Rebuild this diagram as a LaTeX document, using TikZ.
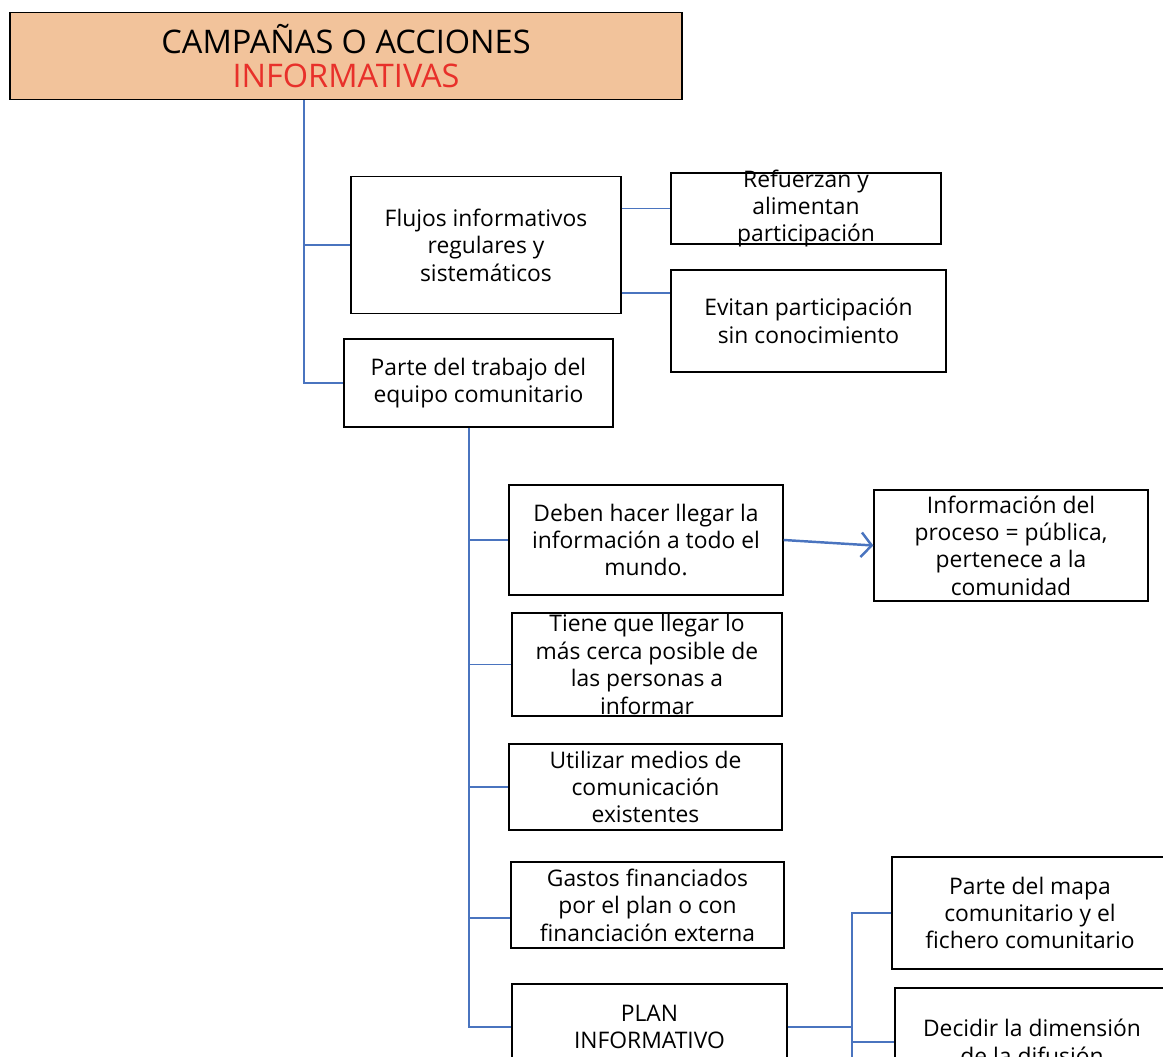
\documentclass[tikz,border=0pt]{standalone}
\usepackage{fontspec}
\setmainfont{Open Sans}
\usetikzlibrary{arrows.meta,calc}
\definecolor{titlefill}{HTML}{F2C39B}
\definecolor{titlered}{HTML}{E8302A}
\definecolor{linkblue}{HTML}{4A74BF}
\tikzset{
  box/.style={draw, line width=0.8pt, align=center, inner xsep=2pt, inner ysep=0pt,
    font=\fontsize{13}{15.6}\selectfont},
  link/.style={draw=linkblue, line width=0.8pt},
  arrowlink/.style={draw=linkblue, line width=1.4pt, -{Straight Barb[length=6pt,width=14pt]}},
}
\begin{document}
\begin{tikzpicture}[x=0.02cm,y=-0.02cm]
  \useasboundingbox (0,0) rectangle (1163,1057);
  \clip (0,0) rectangle (1163,1057);

  % title
  \node[box, fill=titlefill, minimum width=13.44cm, minimum height=1.74cm,
        font=\fontsize{18.5}{19.3}\selectfont] (title) at (346,56)
        {CAMPAÑAS O ACCIONES\\\textcolor{titlered}{INFORMATIVAS}};

  % first level
  \node[box, minimum width=5.4cm, minimum height=2.74cm] (flujos) at (486,245)
        {Flujos informativos\\regulares y\\sistemáticos};
  \node[box, minimum width=5.38cm, minimum height=1.76cm] (parte) at (478.5,383)
        {Parte del trabajo del\\equipo comunitario};

  \node[box, minimum width=5.4cm, minimum height=1.42cm, inner ysep=-2.5pt] (refuerzan) at (806,208.5)
        {Refuerzan y\\alimentan\\participación};
  \node[box, minimum width=5.5cm, minimum height=2.04cm] (evitan) at (808.5,321)
        {Evitan participación\\sin conocimiento};

  % second level
  \node[box, minimum width=5.48cm, minimum height=2.2cm] (deben) at (646,540)
        {Deben hacer llegar la\\información a todo el\\mundo.};
  \node[box, minimum width=5.48cm, minimum height=2.22cm, inner ysep=-1pt] (info) at (1011,545.5)
        {Información del\\proceso = pública,\\pertenece a la\\comunidad};
  \node[box, minimum width=5.4cm, minimum height=2.06cm, inner ysep=-1.5pt] (tiene) at (647,664.5)
        {Tiene que llegar lo\\más cerca posible de\\las personas a\\informar};
  \node[box, minimum width=5.46cm, minimum height=1.72cm] (utilizar) at (645.5,787)
        {Utilizar medios de\\comunicación\\existentes};
  \node[box, minimum width=5.46cm, minimum height=1.72cm] (gastos) at (647.5,905)
        {Gastos financiados\\por el plan o con\\financiación externa};
  \node[box, minimum width=5.5cm, minimum height=1.72cm] (plan) at (649.5,1027)
        {PLAN\\INFORMATIVO};

  \node[box, minimum width=5.52cm, minimum height=2.24cm] (mapa) at (1030,913)
        {Parte del mapa\\comunitario y el\\fichero comunitario};
  \node[box, minimum width=5.48cm, minimum height=2.16cm] (decidir) at (1032,1042)
        {Decidir la dimensión\\de la difusión};

  % trunks
  \coordinate (trunkA) at (304,0);
  \coordinate (trunkB) at (469,0);
  \coordinate (trunkC) at (852,0);
  \coordinate (flujosout) at ([yshift=-0.96cm]flujos.east);
  \coordinate (gastosin) at ([yshift=-0.26cm]gastos.west);

  \draw[link] (title.south -| trunkA) |- (parte.west);
  \draw[link] (trunkA |- flujos.west) -- (flujos.west);
  \draw[link] (refuerzan.west -| flujos.east) -- (refuerzan.west);
  \draw[link] (flujosout) -- (flujosout -| evitan.west);

  \draw[link] (parte.south -| trunkB) |- (plan.west);
  \foreach \n in {deben,tiene,utilizar}
    \draw[link] (trunkB |- \n.west) -- (\n.west);
  \draw[link] (gastosin -| trunkB) -- (gastosin);

  \draw[arrowlink] (deben.east) -- (info.west);

  \draw[link] (plan.east) -- (trunkC |- plan.east);
  \draw[link] (mapa.west) -| ($(trunkC)+(0,1080)$);
  \draw[link] (trunkC |- decidir.west) -- (decidir.west);
\end{tikzpicture}
\end{document}
